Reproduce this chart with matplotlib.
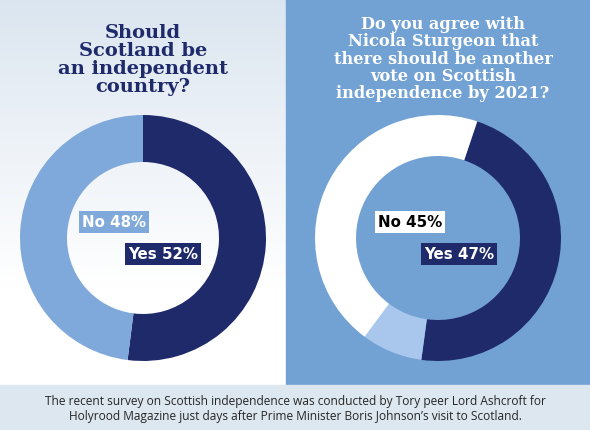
import matplotlib
matplotlib.use("Agg")
import matplotlib.pyplot as plt
import numpy as np

# poll data
left_labels = ["Yes", "No"]
left_values = [52, 48]
right_labels = ["Yes", "Don't know", "No"]
right_values = [47, 8, 45]

left_title = "Should\nScotland be\nan independent\ncountry?"
right_title = ("Do you agree with\nNicola Sturgeon that\nthere should be another\n"
               "vote on Scottish\nindependence by 2021?")
caption = ("The recent survey on Scottish independence was conducted by Tory peer Lord Ashcroft for\n"
           "Holyrood Magazine just days after Prime Minister Boris Johnson\u2019s visit to Scotland.")

NAVY = "#1f2a6b"
LIGHT = "#7fa9da"
PALE = "#a9c7ec"
PANEL = "#72a1d4"
STRIP = "#dde7f0"

W, H = 590, 431
fig = plt.figure(figsize=(W / 100, H / 100), dpi=100)

# background in pixel coordinates
bg = fig.add_axes([0, 0, 1, 1])
bg.set_xlim(0, W)
bg.set_ylim(H, 0)
bg.axis("off")

# left panel gradient: pale blue-grey at top fading to white
t = np.clip(np.linspace(0, 1, 256) / 0.75, 0, 1)[:, None, None]
top = np.array([0.86, 0.90, 0.94])
img = top * (1 - t) + np.ones(3) * t
bg.imshow(img, extent=[0, 286, 386, 0], aspect="auto", zorder=0)
bg.add_patch(plt.Rectangle((286, 0), W - 286, 386, color=PANEL, zorder=1))
bg.add_patch(plt.Rectangle((0, 386), W, H - 386, color=STRIP, zorder=1))

bg.text(143, 60, left_title, ha="center", va="center", color=NAVY,
        fontfamily="DejaVu Serif", fontweight="bold", fontsize=14, linespacing=1.02, zorder=3)
bg.text(443, 59, right_title, ha="center", va="center", color="white",
        fontfamily="DejaVu Serif", fontweight="bold", fontsize=11.7, linespacing=1.02, zorder=3)
bg.text(295, 409, caption, ha="center", va="center", color="#262626",
        fontfamily="Open Sans", fontsize=8.6, linespacing=1.25, zorder=3)


def donut(cx, cy, r, ring, values, colors, start):
    ax = fig.add_axes([(cx - 125) / W, (H - cy - 125) / H, 250 / W, 250 / H])
    ax.pie(values, colors=colors, startangle=start, counterclock=False,
           radius=r, wedgeprops=dict(width=ring, linewidth=0))
    ax.set_xlim(-125, 125)
    ax.set_ylim(-125, 125)
    ax.set_aspect("equal")
    ax.axis("off")
    return ax


donut(143, 239, 123, 47, left_values, [NAVY, LIGHT], 90)
donut(438, 239, 123, 41, right_values, [NAVY, PALE, "white"], 71.4)

# labels
lab = fig.add_axes([0, 0, 1, 1])
lab.set_xlim(0, W)
lab.set_ylim(H, 0)
lab.axis("off")


def tag(x, y, text, fc, tc):
    lab.text(x, y, text, ha="center", va="center", color=tc, fontfamily="DejaVu Sans",
             fontweight="bold", fontsize=10.8,
             bbox=dict(boxstyle="square,pad=0.22", fc=fc, ec="none"))


tag(114, 223, f"No {left_values[1]}%", LIGHT, "white")
tag(163, 255, f"Yes {left_values[0]}%", NAVY, "white")
tag(410, 223, f"No {right_values[2]}%", "white", "black")
tag(459, 255, f"Yes {right_values[0]}%", NAVY, "white")

fig.savefig("out.png", dpi=100)
